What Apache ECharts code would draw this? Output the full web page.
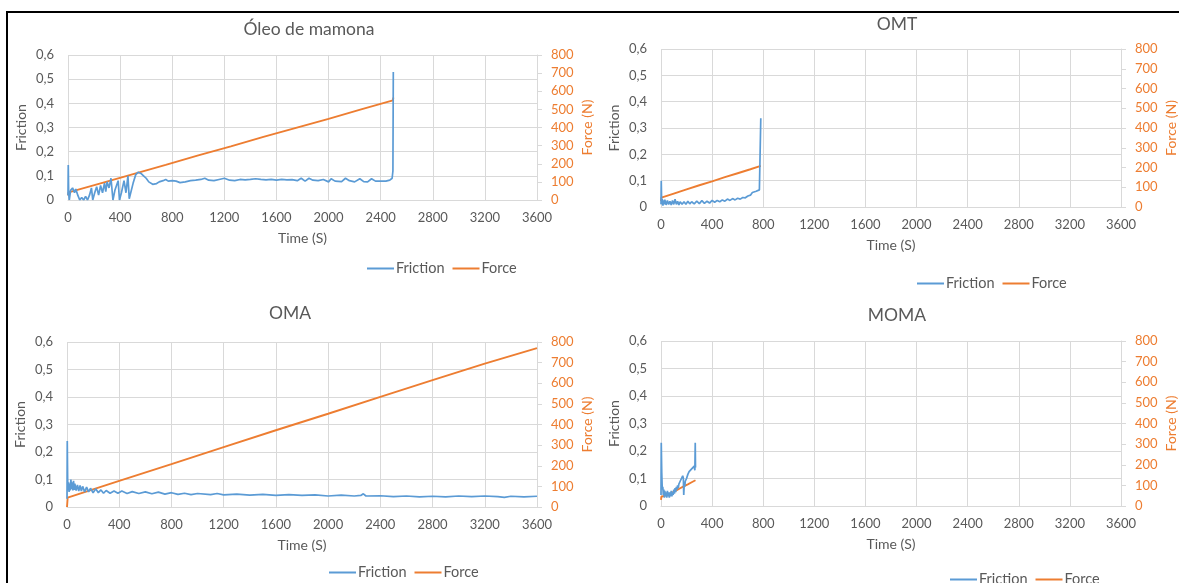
<!DOCTYPE html>
<html><head><meta charset="utf-8">
<script src="https://cdn.jsdelivr.net/npm/echarts/dist/echarts.min.js"></script>
<style>html,body{margin:0;padding:0;background:#fff}#c{width:1179px;height:583px}</style>
</head><body><div id="c"></div>
<script>
// ---------- DATA ----------
const titles = ['Óleo de mamona', 'OMT', 'OMA', 'MOMA'];
const seriesNames = ['Friction', 'Force'];
const xAxisName = 'Time (S)';
const leftAxisName = 'Friction';
const rightAxisName = 'Force (N)';
const timeTickLabels = ['0','400','800','1200','1600','2000','2400','2800','3200','3600'];
const frictionTickLabels = ['0','0,1','0,2','0,3','0,4','0,5','0,6'];
const forceTickLabels = ['0','100','200','300','400','500','600','700','800'];

// Óleo de mamona
const oleoFriction = [[0,0.02],[2,0.145],[5,0.03],[10,0.0],[20,0.04],[35,0.05],[50,0.03],[60,0.045],[75,0.02],[90,0.0],[105,0.01],[120,0.0],[135,0.015],[150,0.0],[165,0.02],[180,0.05],[190,0.0],[205,0.03],[220,0.055],[235,0.02],[250,0.06],[265,0.03],[280,0.07],[290,0.035],[300,0.075],[315,0.05],[330,0.09],[340,0.03],[345,0.0],[360,0.04],[385,0.08],[395,0.0],[410,0.03],[430,0.08],[445,0.03],[460,0.1],[470,0.005],[480,0.01],[500,0.07],[520,0.105],[540,0.115],[560,0.11],[580,0.1],[600,0.09],[620,0.075],[650,0.065],[680,0.068],[700,0.075],[730,0.08],[750,0.085],[770,0.078],[800,0.08],[830,0.078],[860,0.072],[900,0.075],[940,0.08],[980,0.082],[1020,0.085],[1050,0.09],[1080,0.082],[1120,0.08],[1160,0.085],[1200,0.09],[1240,0.082],[1280,0.08],[1320,0.085],[1360,0.083],[1400,0.085],[1440,0.088],[1480,0.085],[1520,0.083],[1560,0.085],[1600,0.082],[1640,0.085],[1680,0.083],[1720,0.084],[1760,0.08],[1790,0.09],[1820,0.078],[1850,0.09],[1880,0.082],[1920,0.08],[1960,0.085],[2000,0.075],[2020,0.088],[2050,0.078],[2100,0.076],[2130,0.09],[2160,0.08],[2200,0.075],[2240,0.088],[2270,0.076],[2300,0.075],[2330,0.088],[2360,0.078],[2400,0.078],[2440,0.078],[2470,0.082],[2488,0.09],[2494,0.12],[2497,0.53]];
const oleoForce = [[0,25],[4,42],[250,92],[500,143],[750,194],[1000,246],[1250,296],[1500,348],[1750,398],[2000,448],[2250,500],[2494,550],[2497,565]];

// OMT
const omtFriction = [[0,0.01],[2,0.1],[5,0.02],[10,0.03],[15,0.005],[20,0.025],[25,0.01],[30,0.028],[40,0.008],[50,0.025],[60,0.01],[70,0.022],[80,0.008],[90,0.025],[100,0.01],[110,0.03],[120,0.01],[130,0.022],[140,0.008],[150,0.02],[165,0.01],[180,0.02],[195,0.01],[210,0.022],[225,0.012],[240,0.02],[260,0.012],[280,0.022],[300,0.013],[320,0.024],[340,0.014],[360,0.022],[380,0.015],[400,0.025],[420,0.018],[440,0.025],[460,0.02],[480,0.027],[500,0.022],[520,0.03],[540,0.025],[560,0.032],[580,0.027],[600,0.033],[620,0.03],[640,0.036],[660,0.035],[680,0.042],[700,0.045],[715,0.055],[730,0.052],[745,0.06],[760,0.058],[770,0.065],[778,0.07],[781,0.337]];
const omtForce = [[0,30],[3,47],[100,68],[200,89],[300,110],[400,130],[500,151],[600,171],[700,191],[781,208]];

// OMA
const omaFriction = [[0,0.03],[2,0.24],[5,0.1],[8,0.06],[12,0.09],[16,0.055],[20,0.085],[25,0.06],[30,0.1],[35,0.065],[40,0.09],[45,0.06],[50,0.095],[55,0.062],[60,0.085],[70,0.06],[80,0.08],[90,0.058],[100,0.078],[110,0.058],[120,0.075],[135,0.055],[150,0.072],[165,0.055],[180,0.068],[200,0.052],[220,0.066],[240,0.052],[260,0.062],[280,0.05],[300,0.06],[330,0.05],[360,0.058],[390,0.05],[420,0.058],[460,0.049],[500,0.056],[550,0.049],[600,0.055],[650,0.048],[700,0.054],[750,0.047],[800,0.052],[850,0.046],[900,0.05],[950,0.045],[1000,0.049],[1100,0.045],[1150,0.049],[1200,0.044],[1300,0.047],[1400,0.043],[1500,0.046],[1600,0.042],[1700,0.045],[1800,0.042],[1900,0.044],[2000,0.04],[2100,0.043],[2200,0.04],[2250,0.042],[2270,0.048],[2290,0.04],[2400,0.041],[2500,0.038],[2600,0.04],[2700,0.037],[2800,0.039],[2900,0.037],[3000,0.04],[3100,0.038],[3200,0.04],[3300,0.038],[3350,0.035],[3400,0.039],[3500,0.037],[3600,0.039]];
const omaForce = [[0,0],[5,45],[400,127],[800,208],[1200,290],[1600,372],[2000,452],[2400,534],[2800,615],[3200,695],[3600,770]];

// MOMA
const momaFriction = [[0,0.04],[2,0.23],[6,0.12],[10,0.06],[14,0.07],[18,0.04],[22,0.06],[26,0.03],[30,0.055],[35,0.035],[40,0.05],[45,0.03],[50,0.055],[55,0.035],[60,0.05],[65,0.03],[70,0.05],[75,0.035],[80,0.055],[85,0.035],[90,0.05],[95,0.04],[100,0.06],[105,0.045],[110,0.065],[115,0.05],[120,0.07],[125,0.06],[130,0.075],[135,0.065],[140,0.08],[145,0.075],[150,0.09],[155,0.085],[160,0.1],[165,0.095],[170,0.11],[175,0.1],[178,0.04],[182,0.08],[186,0.07],[190,0.09],[195,0.085],[200,0.1],[205,0.095],[210,0.115],[215,0.11],[220,0.125],[225,0.12],[230,0.13],[235,0.125],[240,0.135],[245,0.13],[250,0.14],[255,0.13],[260,0.145],[265,0.13],[268,0.23],[270,0.14]];
const momaForce = [[0,30],[3,45],[30,50],[60,56],[95,68],[120,76],[150,86],[180,96],[210,105],[240,115],[270,125]];

const frictionData = [oleoFriction, omtFriction, omaFriction, momaFriction];
const forceData = [oleoForce, omtForce, omaForce, momaForce];

// ---------- LAYOUT / STYLE ----------
const FONT = 'Lato';
const GRAY = '#595959';
const GRID = '#d9d9d9';
const BLUE = '#5B9BD5';
const ORANGE = '#ED7D31';
const layout = [
  {grid:{left:68, top:55, width:469, height:145}, title:{x:304, y:15}, legend:{left:362, top:256}},
  {grid:{left:661, top:49, width:460, height:158}, title:{x:892, y:10}, legend:{left:912, top:271}},
  {grid:{left:67, top:342, width:470, height:165}, title:{x:285, y:299}, legend:{left:324, top:560}},
  {grid:{left:661, top:341, width:460, height:165}, title:{x:892, y:301}, legend:{left:945, top:567}}
];

const option = {
  animation:false,
  backgroundColor:'#fff',
  textStyle:{fontFamily:FONT},
  title:[], grid:[], xAxis:[], yAxis:[], series:[], legend:[],
  graphic:[
    {type:'line', shape:{x1:6, y1:12, x2:1179, y2:12}, style:{stroke:'#000', lineWidth:2}},
    {type:'line', shape:{x1:7, y1:12, x2:7, y2:583}, style:{stroke:'#000', lineWidth:2}}
  ]
};

layout.forEach((L, i) => {
  option.title.push({text:titles[i], left:L.title.x, top:L.title.y, textAlign:'center',
    textStyle:{fontFamily:FONT, fontSize:17.5, fontWeight:'normal', color:GRAY}});
  option.grid.push(Object.assign({containLabel:false}, L.grid));
  option.xAxis.push({type:'value', gridIndex:i, min:0, max:3600, interval:400,
    name:xAxisName, nameLocation:'middle', nameGap:31,
    nameTextStyle:{fontFamily:FONT, fontSize:14, color:GRAY},
    axisLine:{show:true, lineStyle:{color:GRID, width:1}}, axisTick:{show:false},
    axisLabel:{margin:11, fontFamily:FONT, fontSize:13, color:GRAY,
      formatter:v => timeTickLabels[Math.round(v/400)]},
    splitLine:{show:true, lineStyle:{color:GRID, width:1}}});
  option.yAxis.push({type:'value', gridIndex:i, position:'left', min:0, max:0.6, interval:0.1,
    name:leftAxisName, nameLocation:'middle', nameGap:40,
    nameTextStyle:{fontFamily:FONT, fontSize:14, color:GRAY},
    axisLine:{show:false}, axisTick:{show:false},
    axisLabel:{margin:14, fontFamily:FONT, fontSize:13, color:GRAY,
      formatter:v => frictionTickLabels[Math.round(v*10)]},
    splitLine:{show:true, lineStyle:{color:GRID, width:1}}});
  option.yAxis.push({type:'value', gridIndex:i, position:'right', min:0, max:800, interval:100,
    name:rightAxisName, nameLocation:'middle', nameGap:43,
    nameTextStyle:{fontFamily:FONT, fontSize:14, color:ORANGE},
    axisLine:{show:true, lineStyle:{color:GRID, width:1}},
    axisTick:{show:true, inside:false, length:5, lineStyle:{color:GRID}},
    axisLabel:{margin:14, fontFamily:FONT, fontSize:13, color:ORANGE,
      formatter:v => forceTickLabels[Math.round(v/100)]},
    splitLine:{show:false}});
  option.series.push({name:seriesNames[0], type:'line', xAxisIndex:i, yAxisIndex:2*i,
    data:frictionData[i], showSymbol:false, symbol:'none', z:3,
    lineStyle:{color:BLUE, width:1.7}, itemStyle:{color:BLUE}});
  option.series.push({name:seriesNames[1], type:'line', xAxisIndex:i, yAxisIndex:2*i+1,
    data:forceData[i], showSymbol:false, symbol:'none', z:2,
    lineStyle:{color:ORANGE, width:1.9}, itemStyle:{color:ORANGE}});
  option.legend.push({data:seriesNames, left:L.legend.left, top:L.legend.top,
    icon:'rect', itemWidth:27, itemHeight:2, itemGap:8,
    textStyle:{fontFamily:FONT, fontSize:14.5, color:GRAY, padding:[0,0,0,-3]}});
});

const chart = echarts.init(document.getElementById('c'), null, {renderer:'canvas'});
chart.setOption(option);
</script>
</body></html>
